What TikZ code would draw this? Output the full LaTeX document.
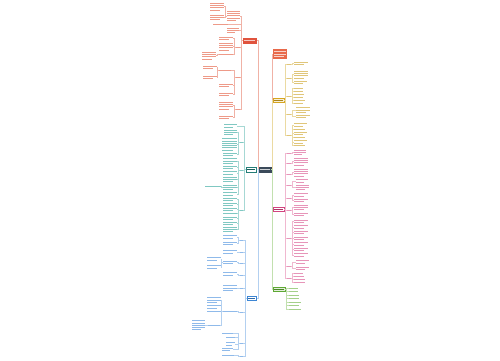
\documentclass[tikz,border=0pt]{standalone}
\definecolor{cen}{HTML}{3B4A5A}
\definecolor{mR}{HTML}{E0533D}\definecolor{tR}{HTML}{EE9A88}\definecolor{kR}{HTML}{F0B2A6}
\definecolor{mT}{HTML}{2E9C95}\definecolor{tT}{HTML}{80C8C2}\definecolor{kT}{HTML}{A6D8D4}
\definecolor{mB}{HTML}{3D86D4}\definecolor{tB}{HTML}{8FBAEA}\definecolor{kB}{HTML}{B3D0F0}
\definecolor{mY}{HTML}{D6A51F}\definecolor{tY}{HTML}{E0C67A}\definecolor{kY}{HTML}{EBDAA2}
\definecolor{mP}{HTML}{D2447F}\definecolor{tP}{HTML}{E795B9}\definecolor{kP}{HTML}{F0B8D0}
\definecolor{mG}{HTML}{5EA833}\definecolor{tG}{HTML}{A4D08A}\definecolor{kG}{HTML}{C2E0AF}
\definecolor{salm}{HTML}{E8694A}
\tikzset{
  lkR/.style={draw=kR,line width=0.35pt},
  lkT/.style={draw=kT,line width=0.35pt},
  lkB/.style={draw=kB,line width=0.35pt},
  lkY/.style={draw=kY,line width=0.35pt},
  lkP/.style={draw=kP,line width=0.35pt},
  lkG/.style={draw=kG,line width=0.35pt},
  txtline/.style={line width=0.8pt},
}
\newcommand\leafb[6]{%
  \node[inner sep=0pt,outer sep=0pt,minimum width=#4pt,minimum height={#5*2.3pt},anchor=north west] (#1) at (#2,#3) {};
  \foreach \k in {1,...,#5}{%
    \draw[#6,txtline] (#2,{#3+\k*2.3-1.15}) -- ({#2+#4*(1-0.3*and(\k==#5,#5>1))},{#3+\k*2.3-1.15});
  }%
}
\newcommand\mnode[8]{%
  \node[inner sep=0pt,outer sep=0pt,anchor=north west,minimum width=#4pt,minimum height=#5pt,fill=#6,draw=#7,line width=0.4pt] (#1) at (#2,#3) {};
  \draw[#8,txtline] ({#2+1.3},{#3+#5/2}) -- ({#2+#4-1.3},{#3+#5/2});
}
\newcommand\kidsl[3]{\foreach \c in {#2}{\draw[#3] (#1.west) -- ++(-1.5,0) |- (\c.east);}}
\newcommand\kidsr[3]{\foreach \c in {#2}{\draw[#3] (#1.east) -- ++(1.5,0) |- (\c.west);}}
\begin{document}
\begin{tikzpicture}[x=1pt,y=-1pt]
\fill[white] (0,0) rectangle (500,360);
\useasboundingbox (0,0) rectangle (500,360);

% ---------- centre and first level ----------
\mnode{C}{259}{167}{12}{5}{cen}{cen}{white!75!cen}
\mnode{R}{243}{38}{13.5}{5}{mR}{mR}{white!70!mR}
\mnode{T}{246}{167.2}{10.5}{4.5}{white}{mT!80!black}{mT!60!black}
\mnode{B}{247}{296}{9.5}{4.5}{white}{mB}{mB!80!black}
\node[inner sep=0pt,outer sep=0pt,anchor=north west,minimum width=14pt,minimum height=10pt,fill=salm] (S) at (273,49) {};
\foreach \q in {1,2,3}{\draw[white!70!salm,txtline] (274.3,{49+\q*2.6}) -- ({285.7-2*and(\q==3,1)},{49+\q*2.6});}
\mnode{Y}{273}{98}{11}{4}{mY!18}{mY}{mY!80!black}
\mnode{P}{273}{207.5}{11}{4}{white}{mP}{mP!80!black}
\mnode{G}{273}{287}{12}{4}{mG!18}{mG}{mG!80!black}

\draw[lkR] (C.west) -- ++(-1,0) |- (R.east);
\draw[lkT] (C.west) -- (T.east);
\draw[lkB] (C.west) -- ++(-1,0) |- (B.east);
\draw[lkR] (C.east) -- ++(1,0) |- (S.west);
\draw[lkY] (C.east) -- ++(1,0) |- (Y.west);
\draw[lkP] (C.east) -- ++(1,0) |- (P.west);
\draw[lkG] (C.east) -- ++(1,0) |- (G.west);

% ---------- red branch ----------
\leafb{rA}{227}{10}{13}{5}{tR}
\leafb{rA1}{210}{2}{14}{4}{tR}
\leafb{rA2}{210}{14}{14}{3}{tR}
\leafb{rB}{213}{23.5}{15}{1}{tR}
\leafb{rC}{227}{27}{12}{3}{tR}
\leafb{rL2}{236}{46}{4}{1}{tR}
\leafb{rD}{219}{36}{14}{2}{tR}
\leafb{rE}{219}{42}{14}{4}{tR}
\leafb{rF}{219}{53}{14}{1}{tR}
\leafb{rF1}{202}{51}{14}{4}{tR}
\leafb{rL3}{236}{76}{4}{1}{tR}
\leafb{rG}{219}{69}{12}{1}{tR}
\leafb{rG1}{203}{65}{14}{2}{tR}
\leafb{rG2}{203}{75}{14}{2}{tR}
\leafb{rH}{219}{83}{14}{2}{tR}
\leafb{rI}{219}{92}{14}{2}{tR}
\leafb{rL4}{236}{108}{4}{1}{tR}
\leafb{rJ}{219}{101}{14}{4}{tR}
\leafb{rK}{219}{115}{14}{2}{tR}
\kidsl{R}{rA,rB,rC,rL2,rL3,rL4}{lkR}
\kidsl{rA}{rA1,rA2}{lkR}
\kidsl{rL2}{rD,rE,rF}{lkR}
\kidsl{rF}{rF1}{lkR}
\kidsl{rL3}{rG,rH,rI}{lkR}
\kidsl{rG}{rG1,rG2}{lkR}
\kidsl{rL4}{rJ,rK}{lkR}

% ---------- teal branch ----------
\leafb{t1}{224}{123.5}{13}{2}{tT}
\leafb{tL1}{239.5}{141}{3.5}{1}{tT}
\leafb{t2}{224}{129}{13}{3}{tT}
\leafb{t3}{222}{137.5}{15}{6}{tT}
\leafb{t4}{223}{152}{14}{2}{tT}
\leafb{tL2}{239.5}{169}{3.5}{1}{tT}
\leafb{t5}{223}{157.5}{14}{3}{tT}
\leafb{t6}{223}{165}{14}{2}{tT}
\leafb{t7}{223}{170.5}{14}{2}{tT}
\leafb{t8}{223}{176}{14}{3}{tT}
\leafb{t9}{223}{184}{14}{3}{tT}
\leafb{t9a}{205}{185.5}{16}{1}{tT}
\leafb{t10}{223}{191.5}{14}{2}{tT}
\leafb{tL3}{239.5}{209}{3.5}{1}{tT}
\leafb{t11}{223}{197}{14}{2}{tT}
\leafb{t12}{223}{202}{14}{2}{tT}
\leafb{t13}{223}{207}{14}{2}{tT}
\leafb{t14}{223}{212.3}{14}{1}{tT}
\leafb{t15}{223}{216}{14}{2}{tT}
\leafb{t16}{223}{221}{14}{2}{tT}
\leafb{t17}{223}{226}{14}{3}{tT}
\kidsl{T}{t1,tL1,tL2,tL3}{lkT}
\kidsl{tL1}{t2,t3,t4}{lkT}
\kidsl{tL2}{t5,t6,t7,t8,t9,t10}{lkT}
\kidsl{t9}{t9a}{lkT}
\kidsl{tL3}{t11,t12,t13,t14,t15,t16,t17}{lkT}

% ---------- blue branch ----------
\leafb{bL1}{239.5}{239.5}{3.5}{1}{tB}
\leafb{b1}{223}{234.5}{14}{2}{tB}
\leafb{b2}{223}{241}{14}{2}{tB}
\leafb{bL2}{239.5}{251}{3.5}{1}{tB}
\leafb{b3}{223}{249.5}{14}{2}{tB}
\leafb{bL3}{239.5}{262.5}{3.5}{1}{tB}
\leafb{b4}{223}{260}{14}{2}{tB}
\leafb{b4a}{207}{256.5}{14}{2}{tB}
\leafb{b4b}{207}{264.5}{14}{2}{tB}
\leafb{bL4}{239.5}{274}{3.5}{1}{tB}
\leafb{b5}{223}{271.5}{14}{2}{tB}
\leafb{bL5}{239.5}{287.5}{3.5}{1}{tB}
\leafb{b6}{223}{284.5}{14}{3}{tB}
\leafb{bL6}{239.5}{311}{3.5}{1}{tB}
\leafb{b7}{223}{310}{14}{1}{tB}
\leafb{b7a}{207}{296.5}{14}{3}{tB}
\leafb{b7b}{207}{304.5}{14}{2}{tB}
\leafb{b7c}{207}{310}{14}{1}{tB}
\leafb{b7d}{208}{324.5}{12}{1}{tB}
\leafb{b7e}{192}{319.5}{13}{5}{tB}
\leafb{bL7}{239.5}{342.5}{3.5}{1}{tB}
\leafb{b8}{222}{332.5}{11}{1}{tB}
\leafb{b9}{226}{336.5}{9}{1}{tB}
\leafb{b10}{226}{341.5}{9}{2}{tB}
\leafb{b11}{222}{347}{11}{2}{tB}
\leafb{bL8}{239.5}{355.5}{3.5}{1}{tB}
\leafb{b12}{222}{354.5}{12}{1}{tB}
\kidsl{B}{bL1,bL2,bL3,bL4,bL5,bL6,bL7,bL8}{lkB}
\kidsl{bL1}{b1,b2}{lkB}
\kidsl{bL2}{b3}{lkB}
\kidsl{bL3}{b4}{lkB}
\kidsl{b4}{b4a,b4b}{lkB}
\kidsl{bL4}{b5}{lkB}
\kidsl{bL5}{b6}{lkB}
\kidsl{bL6}{b7}{lkB}
\kidsl{b7}{b7a,b7b,b7c,b7d}{lkB}
\kidsl{b7d}{b7e}{lkB}
\kidsl{bL7}{b8,b9,b10,b11}{lkB}
\kidsl{bL8}{b12}{lkB}

% ---------- yellow branch ----------
\leafb{yL1}{287}{63}{4}{1}{tY}
\leafb{y1}{294}{61}{14}{2}{tY}
\leafb{yL2}{287}{77}{4}{1}{tY}
\leafb{y2}{294}{70}{14}{4}{tY}
\leafb{y3}{294}{80}{13}{2}{tY}
\leafb{yL3}{287}{95}{4}{1}{tY}
\leafb{y4}{294}{87.5}{9}{1}{tY}
\leafb{y5}{294}{90.5}{9}{1}{tY}
\leafb{y6}{294}{93.5}{10}{1}{tY}
\leafb{y7}{294}{96.5}{9}{1}{tY}
\leafb{y8}{294}{99.5}{11}{1}{tY}
\leafb{y9}{294}{102.5}{9}{1}{tY}
\leafb{yL4}{287}{113}{4}{1}{tY}
\leafb{y10}{296}{106.5}{14}{3}{tY}
\leafb{y11}{296}{114}{14}{2}{tY}
\leafb{yL5}{287}{134}{4}{1}{tY}
\leafb{y12}{294}{122.5}{13}{2}{tY}
\leafb{y13}{294}{128}{11}{1}{tY}
\leafb{y14}{294}{131}{13}{2}{tY}
\leafb{y15}{294}{136.5}{11}{1}{tY}
\leafb{y16}{294}{139.5}{13}{2}{tY}
\leafb{y17}{294}{144.5}{11}{1}{tY}
\kidsr{Y}{yL1,yL2,yL3,yL4,yL5}{lkY}
\kidsr{yL1}{y1}{lkY}
\kidsr{yL2}{y2,y3}{lkY}
\kidsr{yL3}{y4,y5,y6,y7,y8,y9}{lkY}
\kidsr{yL4}{y10,y11}{lkY}
\kidsr{yL5}{y12,y13,y14,y15,y16,y17}{lkY}

% ---------- pink branch ----------
\leafb{pL1}{287}{152}{4}{1}{tP}
\leafb{p1}{294}{149}{12}{3}{tP}
\leafb{pL2}{287}{162}{4}{1}{tP}
\leafb{p2}{294}{157}{14}{4}{tP}
\leafb{pL3}{287}{173}{4}{1}{tP}
\leafb{p3}{294}{168}{14}{4}{tP}
\leafb{pL4}{287}{184.5}{4}{1}{tP}
\leafb{p4}{296}{178.5}{12}{2}{tP}
\leafb{p5}{296}{184}{13}{3}{tP}
\leafb{pL5}{287}{197}{4}{1}{tP}
\leafb{p6}{294}{192.5}{14}{2}{tP}
\leafb{p7}{294}{198}{14}{2}{tP}
\leafb{pL6}{287}{209}{4}{1}{tP}
\leafb{p8}{294}{204}{14}{3}{tP}
\leafb{p9}{294}{212}{14}{2}{tP}
\leafb{pL7}{287}{237}{4}{1}{tP}
\leafb{p10}{294}{219}{14}{2}{tP}
\leafb{p11}{294}{224.5}{14}{2}{tP}
\leafb{p12}{294}{230}{14}{2}{tP}
\leafb{p13}{294}{236}{14}{2}{tP}
\leafb{p14}{294}{241.5}{14}{2}{tP}
\leafb{p15}{294}{247}{14}{2}{tP}
\leafb{p16}{294}{252.5}{14}{2}{tP}
\leafb{pL8}{287}{265}{4}{1}{tP}
\leafb{p17}{296}{259.5}{13}{2}{tP}
\leafb{p18}{296}{266}{13}{2}{tP}
\leafb{pL9}{287}{277.5}{4}{1}{tP}
\leafb{p19}{294}{272.5}{9}{1}{tP}
\leafb{p20}{294}{275.5}{10}{1}{tP}
\leafb{p21}{294}{278.5}{11}{1}{tP}
\leafb{p22}{294}{281.5}{11}{1}{tP}
\kidsr{P}{pL1,pL2,pL3,pL4,pL5,pL6,pL7,pL8,pL9}{lkP}
\kidsr{pL1}{p1}{lkP}
\kidsr{pL2}{p2}{lkP}
\kidsr{pL3}{p3}{lkP}
\kidsr{pL4}{p4,p5}{lkP}
\kidsr{pL5}{p6,p7}{lkP}
\kidsr{pL6}{p8,p9}{lkP}
\kidsr{pL7}{p10,p11,p12,p13,p14,p15,p16}{lkP}
\kidsr{pL8}{p17,p18}{lkP}
\kidsr{pL9}{p19,p20,p21,p22}{lkP}

% ---------- green branch ----------
\leafb{g1}{289}{287}{9}{1}{tG}
\leafb{g2}{289}{290.5}{9}{1}{tG}
\leafb{g3}{289}{294}{10}{1}{tG}
\leafb{g4}{289}{297.5}{10}{1}{tG}
\leafb{g5}{289}{301}{12}{1}{tG}
\leafb{g6}{289}{304.5}{10}{1}{tG}
\leafb{g7}{289}{308}{12}{1}{tG}
\kidsr{G}{g1,g2,g3,g4,g5,g6,g7}{lkG}
\end{tikzpicture}
\end{document}
